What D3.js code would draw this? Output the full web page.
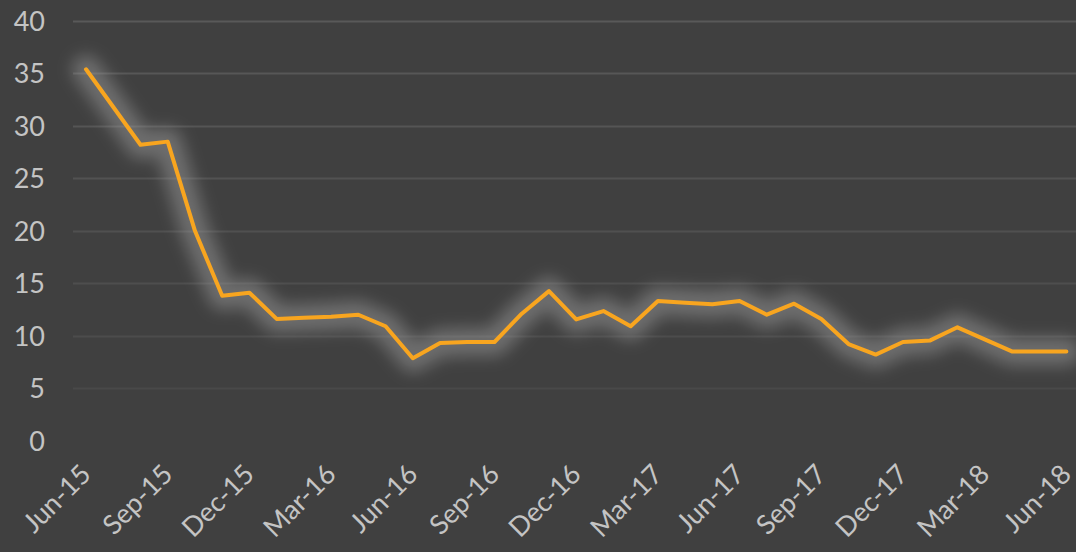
<!DOCTYPE html>
<html>
<head>
<meta charset="utf-8">
<script src="https://cdn.jsdelivr.net/npm/d3@7"></script>
<style>
  html, body { margin: 0; padding: 0; background: #404040; }
  svg { display: block; }
  .tick-label { font-family: Lato, "Open Sans", sans-serif; fill: #c4c4c4; }
</style>
</head>
<body>
<svg id="chart" width="1076" height="552"></svg>
<script>
// categories: one per month
const months = [
  'Jun-15','Jul-15','Aug-15','Sep-15','Oct-15','Nov-15','Dec-15',
  'Jan-16','Feb-16','Mar-16','Apr-16','May-16','Jun-16','Jul-16','Aug-16','Sep-16','Oct-16','Nov-16','Dec-16',
  'Jan-17','Feb-17','Mar-17','Apr-17','May-17','Jun-17','Jul-17','Aug-17','Sep-17','Oct-17','Nov-17','Dec-17',
  'Jan-18','Feb-18','Mar-18','Apr-18','May-18','Jun-18'
];
const values = [
  35.4, 31.8, 28.2, 28.5, 20.0, 13.8, 14.1,
  11.6, 11.7, 11.8, 12.0, 10.9, 7.85, 9.3, 9.4, 9.4, 12.1, 14.25, 11.55,
  12.35, 10.9, 13.3, 13.15, 13.0, 13.3, 12.0, 13.05, 11.6, 9.2, 8.2, 9.4,
  9.55, 10.8, 9.65, 8.5, 8.5, 8.5
];
const xTickLabels = ['Jun-15','Sep-15','Dec-15','Mar-16','Jun-16','Sep-16','Dec-16',
  'Mar-17','Jun-17','Sep-17','Dec-17','Mar-18','Jun-18'];
const yTicks = [0, 5, 10, 15, 20, 25, 30, 35, 40];

const svg = d3.select('#chart');
const width = +svg.attr('width');
const height = +svg.attr('height');

svg.append('rect').attr('width', width).attr('height', height).attr('fill', '#404040');

const x = d3.scalePoint().domain(months).range([72.4, 1080]).padding(0.5);
const y = d3.scaleLinear().domain([0, 40]).range([440.6, 21]);

// grid lines (slightly brighter toward the top)
const gridColor = d3.scaleLinear().domain([0, 40]).range(['#474747', '#595959']);
svg.append('g')
  .selectAll('line')
  .data(yTicks.filter(d => d > 0))
  .join('line')
    .attr('x1', 73).attr('x2', width)
    .attr('y1', d => Math.round(y(d)) + 0.5)
    .attr('y2', d => Math.round(y(d)) + 0.5)
    .attr('stroke', d => gridColor(d))
    .attr('stroke-width', 2);

// y axis labels
const yAxis = d3.axisLeft(y).tickValues(yTicks).tickSize(0).tickPadding(0);
const yAxisG = svg.append('g').attr('transform', 'translate(45,0)').call(yAxis);
yAxisG.select('.domain').remove();
yAxisG.selectAll('text')
  .attr('class', 'tick-label')
  .attr('font-size', 27)
  .attr('dy', '0.35em');

// x axis labels, rotated
const xAxis = d3.axisBottom(x).tickValues(xTickLabels).tickSize(0).tickPadding(0);
const xAxisG = svg.append('g').call(xAxis);
xAxisG.select('.domain').remove();
xAxisG.selectAll('.tick text')
  .attr('class', 'tick-label')
  .attr('font-size', 27)
  .attr('text-anchor', 'end')
  .attr('x', 0).attr('y', 0).attr('dy', 0)
  .attr('transform', 'translate(6,476) rotate(-45)');

// soft glow under the line
const defs = svg.append('defs');
defs.append('filter')
  .attr('id', 'glow')
  .attr('x', '-10%').attr('y', '-50%').attr('width', '120%').attr('height', '200%')
  .append('feGaussianBlur').attr('stdDeviation', 8);

const line = d3.line()
  .x((d, i) => x(months[i]))
  .y(d => y(d));

svg.append('path')
  .datum(values)
  .attr('d', line)
  .attr('fill', 'none')
  .attr('stroke', 'rgba(165,165,165,0.45)')
  .attr('stroke-width', 28)
  .attr('stroke-linejoin', 'round')
  .attr('stroke-linecap', 'round')
  .attr('filter', 'url(#glow)');

svg.append('path')
  .datum(values)
  .attr('d', line)
  .attr('fill', 'none')
  .attr('stroke', '#f8a51f')
  .attr('stroke-width', 4)
  .attr('stroke-linejoin', 'round')
  .attr('stroke-linecap', 'round');
</script>
</body>
</html>
